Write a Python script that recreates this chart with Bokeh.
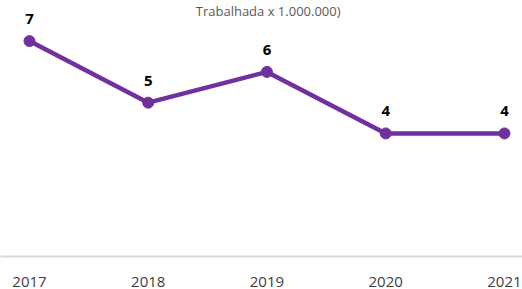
from bokeh.plotting import figure
from bokeh.models import ColumnDataSource, Label, LabelSet, Range1d, FixedTicker
from bokeh.core.properties import value
from bokeh.embed import file_html
from bokeh.resources import INLINE

years = [2017, 2018, 2019, 2020, 2021]
values = [7, 5, 6, 4, 4]
value_labels = ["7", "5", "6", "4", "4"]
title_text = "Trabalhada x 1.000.000)"

src = ColumnDataSource(dict(x=years, y=values, t=value_labels))

p = figure(width=522, height=289, output_backend="svg", toolbar_location=None,
           x_range=Range1d(2016.756, 2021.152), y_range=Range1d(0, 8.32),
           min_border_left=0, min_border_right=0, min_border_top=0, min_border_bottom=31)
p.outline_line_color = None
p.grid.grid_line_color = None
p.yaxis.visible = False

ax = p.xaxis[0]
ax.ticker = FixedTicker(ticks=years)
ax.axis_line_color = "#d9d9d9"
ax.axis_line_width = 2
ax.major_tick_line_color = None
ax.minor_tick_line_color = None
ax.major_label_text_font = "Open Sans"
ax.major_label_text_font_size = "15px"
ax.major_label_text_color = "#404040"
ax.major_label_standoff = 14

p.line("x", "y", source=src, line_color="#7030A0", line_width=4.5)
p.scatter("x", "y", source=src, size=11, fill_color="#7030A0", line_color="#7030A0")

labels = LabelSet(x="x", y="y", text="t", source=src, x_offset=0, y_offset=17,
                  text_align="center", text_baseline="alphabetic",
                  text_font=value("Open Sans"), text_font_style="bold",
                  text_font_size=value("15px"), text_color="#000000")
p.add_layout(labels)

p.add_layout(Label(x=2019.01, y=8.32, y_offset=-1,
                   text=title_text, text_align="center", text_baseline="top",
                   text_font="Open Sans", text_font_size="13px", text_color="#595959"))

open("out.html", "w").write(file_html(p, INLINE))
